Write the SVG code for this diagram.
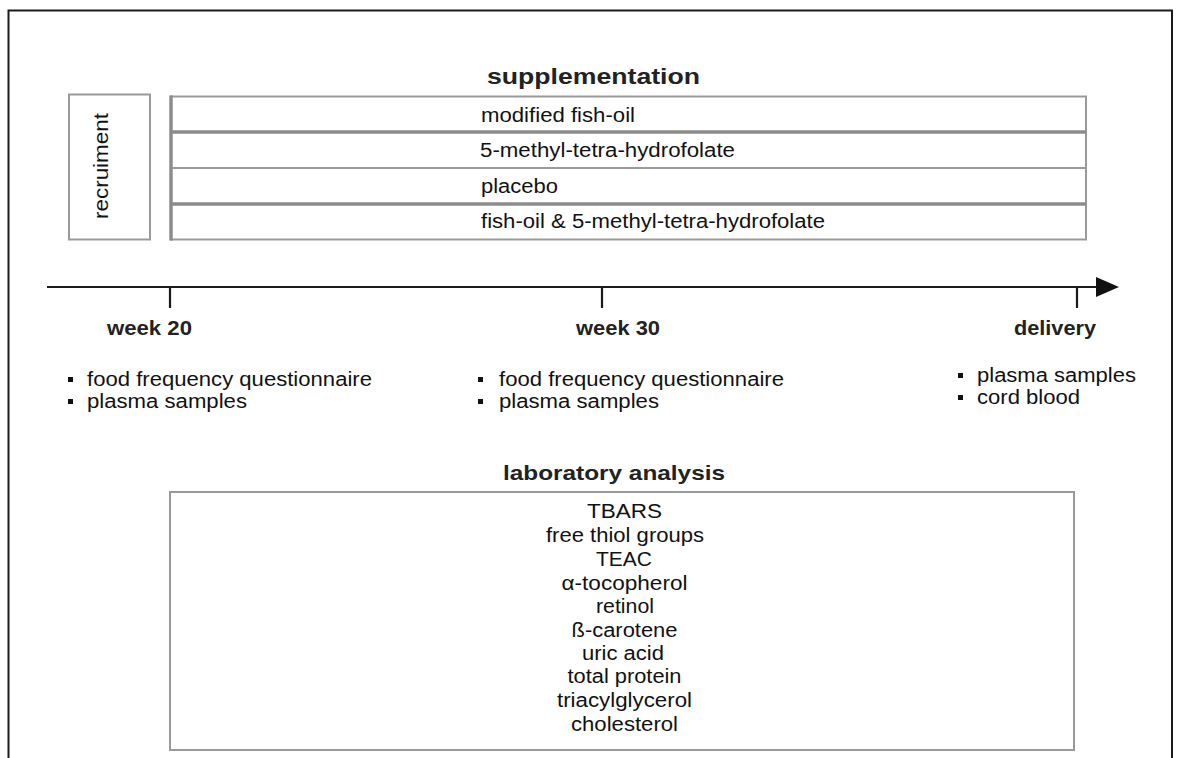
<svg xmlns="http://www.w3.org/2000/svg" width="1178" height="758" viewBox="0 0 1178 758">
<style>
.frame{fill:none;stroke:#1a1a1a;stroke-width:2}
.box{fill:#fff;stroke:#9a9a9a;stroke-width:2}
.thick{stroke:#8c8c8c;stroke-width:3.5}
.thin{stroke:#9a9a9a;stroke-width:2}
.t{font-family:"Liberation Sans",Arial,sans-serif;font-size:20px;fill:#111}
.lab{font-family:"Liberation Sans",Arial,sans-serif;font-size:19.5px;fill:#111;text-anchor:middle}
.b{font-family:"Liberation Sans",Arial,sans-serif;font-weight:bold;fill:#222}
.axis{stroke:#1a1a1a;stroke-width:2.2;fill:none}
.bul{fill:#111}
</style>
<rect width="1178" height="758" fill="#fff"/>
<path class="frame" d="M8.5,758 V10.5 H1172 V758"/>

<g id="supplementation-title">
<text class="b" x="487" y="84" font-size="22" textLength="213" lengthAdjust="spacingAndGlyphs">supplementation</text>
</g>

<g id="recruitment">
<rect class="box" x="69" y="94.5" width="81" height="145"/>
<text class="t" transform="translate(108,219) rotate(-90)" textLength="106" lengthAdjust="spacingAndGlyphs">recruiment</text>
</g>

<g id="supplementation">
<rect class="box" x="171" y="96.5" width="915" height="143"/>
<line class="thick" x1="171" y1="132" x2="1086" y2="132"/>
<line class="thin" x1="171" y1="168" x2="1086" y2="168"/>
<line class="thick" x1="171" y1="204" x2="1086" y2="204"/>
<line class="thick" x1="171" y1="95.5" x2="171" y2="240.5"/>
<g id="row-fish-oil"><text class="t" x="481" y="121.5" textLength="154" lengthAdjust="spacingAndGlyphs">modified fish-oil</text></g>
<g id="row-mthf"><text class="t" x="480" y="157" textLength="255" lengthAdjust="spacingAndGlyphs">5-methyl-tetra-hydrofolate</text></g>
<g id="row-placebo"><text class="t" x="481" y="192.5" textLength="77" lengthAdjust="spacingAndGlyphs">placebo</text></g>
<g id="row-combined"><text class="t" x="481" y="228" textLength="344" lengthAdjust="spacingAndGlyphs">fish-oil &amp; 5-methyl-tetra-hydrofolate</text></g>
</g>

<g id="connectors">
<line class="axis" x1="47" y1="287" x2="1100" y2="287"/>
<polygon points="1096,277 1119,287 1096,297" fill="#111"/>
<line class="axis" x1="170" y1="287" x2="170" y2="308"/>
<line class="axis" x1="602" y1="287" x2="602" y2="308"/>
<line class="axis" x1="1077" y1="287" x2="1077" y2="308"/>
</g>

<g id="week20">
<text class="b" x="107" y="335" font-size="21" textLength="85" lengthAdjust="spacingAndGlyphs">week 20</text>
<rect class="bul" x="68" y="377" width="5" height="5"/>
<text class="t" x="87" y="386" textLength="285" lengthAdjust="spacingAndGlyphs">food frequency questionnaire</text>
<rect class="bul" x="68" y="399" width="5" height="5"/>
<text class="t" x="87" y="408" textLength="160" lengthAdjust="spacingAndGlyphs">plasma samples</text>
</g>

<g id="week30">
<text class="b" x="576" y="335" font-size="21" textLength="84" lengthAdjust="spacingAndGlyphs">week 30</text>
<rect class="bul" x="478" y="377" width="5" height="5"/>
<text class="t" x="499" y="386" textLength="285" lengthAdjust="spacingAndGlyphs">food frequency questionnaire</text>
<rect class="bul" x="478" y="399" width="5" height="5"/>
<text class="t" x="499" y="408" textLength="160" lengthAdjust="spacingAndGlyphs">plasma samples</text>
</g>

<g id="delivery">
<text class="b" x="1014" y="335" font-size="21" textLength="82" lengthAdjust="spacingAndGlyphs">delivery</text>
<rect class="bul" x="958" y="373" width="5" height="5"/>
<text class="t" x="977" y="382" textLength="159" lengthAdjust="spacingAndGlyphs">plasma samples</text>
<rect class="bul" x="958" y="395" width="5" height="5"/>
<text class="t" x="977" y="404" textLength="103" lengthAdjust="spacingAndGlyphs">cord blood</text>
</g>

<g id="laboratory-analysis">
<text class="b" x="503" y="480" font-size="21" textLength="222" lengthAdjust="spacingAndGlyphs">laboratory analysis</text>
<rect class="box" x="170" y="492" width="904" height="258"/>
<text class="lab" x="624.5" y="518.3" textLength="75" lengthAdjust="spacingAndGlyphs">TBARS</text>
<text class="lab" x="625" y="541.7" textLength="158" lengthAdjust="spacingAndGlyphs">free thiol groups</text>
<text class="lab" x="624" y="565.5" textLength="56" lengthAdjust="spacingAndGlyphs">TEAC</text>
<text class="lab" x="624.5" y="589.5" textLength="126" lengthAdjust="spacingAndGlyphs">α-tocopherol</text>
<text class="lab" x="625" y="613.3" textLength="58" lengthAdjust="spacingAndGlyphs">retinol</text>
<text class="lab" x="624.5" y="636.7" textLength="106" lengthAdjust="spacingAndGlyphs">ß-carotene</text>
<text class="lab" x="623" y="660" textLength="82" lengthAdjust="spacingAndGlyphs">uric acid</text>
<text class="lab" x="624.5" y="683.3" textLength="114" lengthAdjust="spacingAndGlyphs">total protein</text>
<text class="lab" x="624.5" y="707" textLength="135" lengthAdjust="spacingAndGlyphs">triacylglycerol</text>
<text class="lab" x="624.5" y="730.7" textLength="107" lengthAdjust="spacingAndGlyphs">cholesterol</text>
</g>
</svg>
